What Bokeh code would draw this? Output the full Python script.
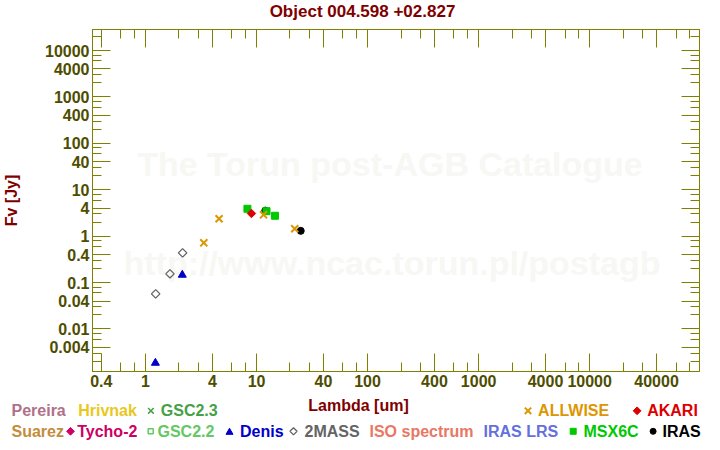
import math
from bokeh.plotting import figure
from bokeh.layouts import column
from bokeh.models import (Range1d, FixedTicker, LogAxis, Label, CustomJSTickFormatter,
                          ColumnDataSource)
from bokeh.core.properties import value
from bokeh.embed import file_html
from bokeh.resources import INLINE

# ---------------- texts ----------------
title_text = "Object 004.598 +02.827"
x_label = "Lambda [um]"
y_label = "Fv [Jy]"
watermark_1 = "The Torun post-AGB Catalogue"
watermark_2 = "http://www.ncac.torun.pl/postagb"

# ---------------- axes ----------------
x_lim = (0.3333, 97500)
y_lim = (0.00121, 28400)
x_major = [0.4, 1, 4, 10, 40, 100, 400, 1000, 4000, 10000, 40000]
x_major_labels = ["0.4", "1", "4", "10", "40", "100", "400", "1000", "4000", "10000", "40000"]
y_major = [0.004, 0.01, 0.04, 0.1, 0.4, 1, 4, 10, 40, 100, 400, 1000, 4000, 10000]
y_major_labels = ["0.004", "0.01", "0.04", "0.1", "0.4", "1", "4", "10", "40", "100",
                  "400", "1000", "4000", "10000"]
minor_mult = [2, 3, 6, 8]
decades = [1e-4, 1e-3, 1e-2, 1e-1, 1, 10, 100, 1e3, 1e4, 1e5]

# ---------------- data (wavelength um, flux Jy) ----------------
twomass_wl = [1.235, 1.662, 2.159]
twomass_f = [0.057, 0.154, 0.436]
denis_wl = [1.228, 2.145]
denis_f = [0.00185, 0.146]
allwise_wl = [3.35, 4.6, 11.56, 22.08]
allwise_f = [0.718, 2.37, 2.88, 1.44]
akari_wl = [9.0]
akari_f = [3.08]
msx_wl = [8.28, 12.3, 14.65]
msx_f = [3.89, 3.45, 2.75]
iras_wl = [12.0, 25.0]
iras_f = [3.55, 1.30]

# ---------------- legend ----------------
legend_row1 = ["Pereira", "Hrivnak", "GSC2.3", "ALLWISE", "AKARI"]
legend_row1_colors = ["#b0708a", "#e8c81e", "#46a046", "#dc9600", "#dc0000"]
legend_row2 = ["Suarez", "Tycho-2", "GSC2.2", "Denis", "2MASS", "ISO spectrum",
               "IRAS LRS", "MSX6C", "IRAS"]
legend_row2_colors = ["#c48c3c", "#cc0066", "#64c864", "#0000c8", "#646464", "#e87864",
                      "#6470dc", "#00c800", "#000000"]

OLIVE = "#808000"
TICKLAB = "#4d4d00"
DARKRED = "#800000"

# layout geometry (page pixels)
W = 720
TITLE_H = 20
LEG_TOP = 395
FL, FR, FT, FB = 92, 699, 29, 371
MAIN_H = LEG_TOP - TITLE_H
LEG_H = 450 - LEG_TOP


def strip(height, top):
    """A plain figure whose data coordinates are page pixels (y downward)."""
    f = figure(width=W, height=height, x_range=Range1d(0, W),
               y_range=Range1d(top + height, top), output_backend="svg",
               toolbar_location=None, title=None, min_border=0, min_border_left=0,
               min_border_right=0, min_border_top=0, min_border_bottom=0,
               x_axis_location=None, y_axis_location=None, frame_align=False)
    f.outline_line_color = None
    f.background_fill_color = "white"
    f.border_fill_color = "white"
    f.xgrid.visible = False
    f.ygrid.visible = False
    return f


# ---------------- title strip ----------------
tstrip = strip(TITLE_H, 0)
tstrip.text(x=[362], y=[10.9], text=[title_text], text_color=DARKRED,
            text_font=value("Liberation Sans"), text_font_style="bold",
            text_font_size="17px", text_align="center", text_baseline="middle")

# ---------------- main plot ----------------
p = figure(width=W, height=MAIN_H, x_axis_type="log", y_axis_type="log",
           x_range=Range1d(*x_lim), y_range=Range1d(*y_lim),
           output_backend="svg", toolbar_location=None, title=None,
           min_border_left=FL, min_border_right=W - FR, min_border_top=FT - TITLE_H,
           min_border_bottom=LEG_TOP - FB, frame_align=False)
p.background_fill_color = "white"
p.border_fill_color = "white"
p.outline_line_color = OLIVE
p.xgrid.visible = False
p.ygrid.visible = False

x_minor = [m * d for d in decades for m in minor_mult if x_lim[0] <= m * d <= x_lim[1]]
y_minor = [m * d for d in decades for m in minor_mult if y_lim[0] <= m * d <= y_lim[1]]

fmt_code = "const i = ticks_list.indexOf(tick); return i >= 0 ? labels[i] : '';"
x_fmt = CustomJSTickFormatter(args=dict(ticks_list=x_major, labels=x_major_labels), code=fmt_code)
y_fmt = CustomJSTickFormatter(args=dict(ticks_list=y_major, labels=y_major_labels), code=fmt_code)
empty_fmt = CustomJSTickFormatter(code="return '';")


def style(ax):
    ax.axis_line_color = OLIVE
    ax.axis_line_width = 1
    ax.major_tick_line_color = OLIVE
    ax.minor_tick_line_color = OLIVE
    ax.major_tick_in = 18
    ax.major_tick_out = 0
    ax.minor_tick_in = 9
    ax.minor_tick_out = 0
    ax.major_label_text_font = "Liberation Sans"
    ax.major_label_text_font_style = "bold"
    ax.major_label_text_color = TICKLAB
    ax.major_label_text_font_size = "16px"
    ax.major_label_standoff = 3


xb = p.xaxis[0]
xb.ticker = FixedTicker(ticks=x_major, minor_ticks=x_minor)
xb.formatter = x_fmt
style(xb)
yl = p.yaxis[0]
yl.ticker = FixedTicker(ticks=y_major, minor_ticks=y_minor)
yl.formatter = y_fmt
style(yl)
yl.axis_label = y_label
yl.axis_label_text_color = DARKRED
yl.axis_label_text_font = "Liberation Sans"
yl.axis_label_text_font_style = "bold"
yl.axis_label_text_font_size = "16px"
yl.axis_label_standoff = 22

xt = LogAxis(ticker=FixedTicker(ticks=x_major, minor_ticks=x_minor), formatter=empty_fmt)
style(xt)
xt.major_label_standoff = 0
p.add_layout(xt, "above")
yr = LogAxis(ticker=FixedTicker(ticks=y_major, minor_ticks=y_minor), formatter=empty_fmt)
style(yr)
yr.major_label_standoff = 0
p.add_layout(yr, "right")

# watermarks (inside the frame)
for txt, cx, cy in [(watermark_1, 389.5, 163), (watermark_2, 391.5, 262)]:
    p.add_layout(Label(x=cx - FL, y=FB - cy, x_units="screen", y_units="screen",
                       text=txt, text_color="#f7f7f4", text_font="Liberation Sans",
                       text_font_size="34px", text_font_style="bold",
                       text_align="center", text_baseline="middle", level="underlay"))

# data
p.scatter(iras_wl, iras_f, marker="circle", size=7, fill_color="black", line_color="black")
p.scatter(msx_wl, msx_f, marker="square", size=7, fill_color="#00c800", line_color="#00c800")
p.scatter(twomass_wl, twomass_f, marker="square", angle=math.pi / 4, size=6,
          fill_color="white", fill_alpha=0, line_color="#646464", line_width=1.3)
p.scatter(denis_wl, denis_f, marker="triangle", size=8, fill_color="#0000c8", line_color="#0000c8")
p.scatter(akari_wl, akari_f, marker="square", angle=math.pi / 4, size=6,
          fill_color="#dc0000", line_color="#dc0000")
p.scatter(allwise_wl, allwise_f, marker="x", size=10, line_color="#dc9600", line_width=2)

# ---------------- legend strip ----------------
leg = strip(LEG_H, LEG_TOP)

ROW1_Y, ROW2_Y = 410.3, 430.8
row1_x = [11, 77.7, 160.3, 537.6, 646.7]
row2_x = [11, 76.7, 157, 239.5, 304, 369, 483, 583, 662]
src = ColumnDataSource(dict(
    x=row1_x + row2_x + [358],
    y=[ROW1_Y] * len(row1_x) + [ROW2_Y] * len(row2_x) + [404.5],
    text=legend_row1 + legend_row2 + [x_label],
    color=legend_row1_colors + legend_row2_colors + [DARKRED],
    align=["left"] * (len(row1_x) + len(row2_x)) + ["center"],
))
leg.text(x="x", y="y", text="text", text_color="color", text_align="align", source=src,
         text_font=value("Liberation Sans"), text_font_style="bold",
         text_font_size="16px", text_baseline="middle")

# legend symbols
leg.scatter([150.4], [ROW1_Y], marker="x", size=8, line_color="#46a046", line_width=1.5)
leg.scatter([527.5], [ROW1_Y], marker="x", size=9, line_color="#dc9600", line_width=2)
leg.scatter([636.6, 70.0], [ROW1_Y, ROW2_Y], marker="square", angle=math.pi / 4, size=5.5,
            fill_color=["#dc0000", "#cc0066"], line_color=["#dc0000", "#cc0066"])
leg.scatter([150.2], [ROW2_Y], marker="square", size=5, fill_color=None,
            line_color="#64c864", line_width=1.5)
leg.scatter([229.0], [ROW2_Y + 1], marker="triangle", size=7, fill_color="#0000c8",
            line_color="#0000c8")
leg.scatter([293.0], [ROW2_Y], marker="square", angle=math.pi / 4, size=5, fill_color=None,
            line_color="#646464", line_width=1.3)
leg.scatter([572.7], [ROW2_Y], marker="square", size=6, fill_color="#00c800",
            line_color="#00c800")
leg.scatter([652.6], [ROW2_Y], marker="circle", size=6, fill_color="black", line_color="black")

open("out.html", "w").write(file_html(column(tstrip, p, leg, spacing=0), INLINE))
